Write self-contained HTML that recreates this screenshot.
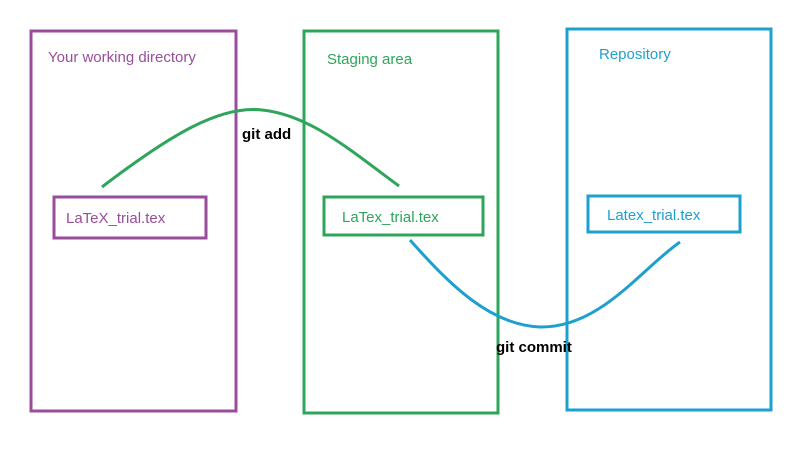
<!DOCTYPE html>
<html><head><style>
body{margin:0;background:#fff;}
svg text{font-family:"Liberation Sans",sans-serif;font-size:15px;}
</style></head><body>
<svg width="789" height="456" viewBox="0 0 789 456" xmlns="http://www.w3.org/2000/svg">
<rect width="789" height="456" fill="#fff"/>
<g fill="none" stroke-width="3">
<rect x="31" y="31" width="205" height="380" stroke="#9a4d9a"/>
<rect x="304" y="31" width="194" height="382" stroke="#2ea55a"/>
<rect x="567" y="29" width="204" height="381" stroke="#1ea0cf"/>
<rect x="54" y="197" width="152" height="41" stroke="#9a4d9a"/>
<rect x="324" y="197" width="159" height="38" stroke="#2ea55a"/>
<rect x="588" y="196" width="152" height="36" stroke="#1ea0cf"/>
<path d="M102,187 C170,135 220,105 262,110 C310,115 350,150 399,186" stroke="#2ea55a"/>
<path d="M410,240 C450,285 490,325 540,327 C600,328 640,270 680,242" stroke="#1ea0cf"/>
</g>
<text x="48" y="62" fill="#9a4d9a">Your working directory</text>
<text x="327" y="64" fill="#2ea55a">Staging area</text>
<text x="599" y="59" fill="#1ea0cf">Repository</text>
<text x="66" y="223" fill="#9a4d9a">LaTeX_trial.tex</text>
<text x="342" y="222" fill="#2ea55a">LaTex_trial.tex</text>
<text x="607" y="220" fill="#1ea0cf">Latex_trial.tex</text>
<text x="242" y="139" fill="#000" font-weight="bold">git add</text>
<text x="496" y="352" fill="#000" font-weight="bold">git commit</text>
</svg>
</body></html>
